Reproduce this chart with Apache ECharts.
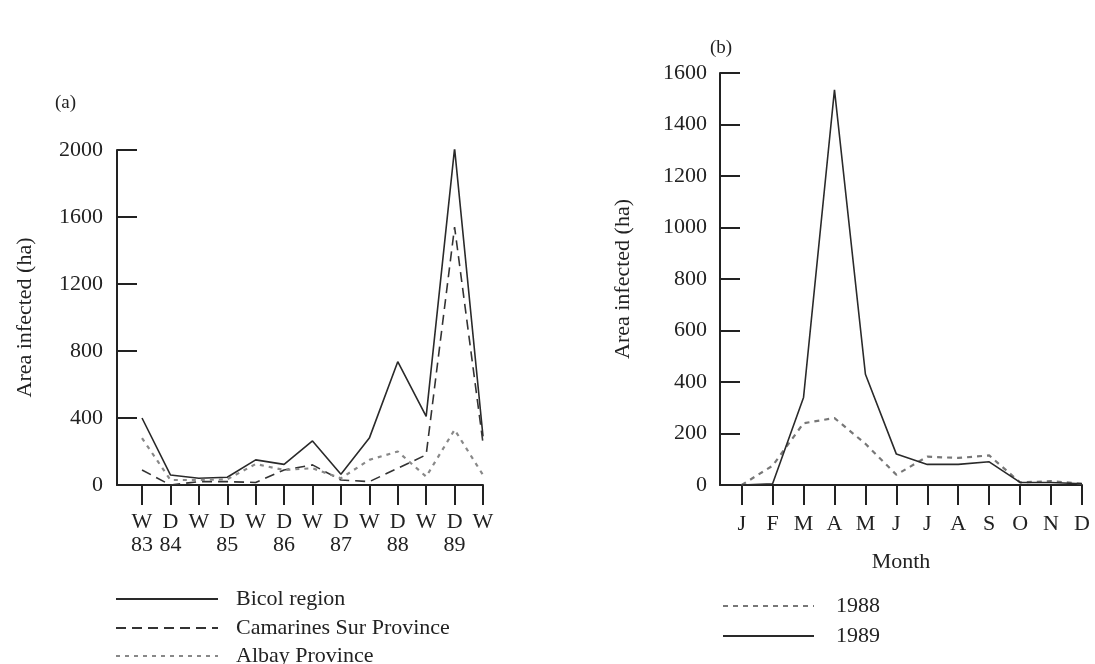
<!DOCTYPE html>
<html>
<head>
<meta charset="utf-8">
<script src="https://cdn.jsdelivr.net/npm/echarts@6/dist/echarts.min.js"></script>
<style>
html,body{margin:0;padding:0;background:#fff;}
#chart{width:1095px;height:664px;}
</style>
</head>
<body>
<div id="chart"></div>
<script>
// ---- Panel (a) data ----
const seasonLetters = ['W','D','W','D','W','D','W','D','W','D','W','D','W'];
const seasonYears   = ['83','84','','85','','86','','87','','88','','89',''];
const bicol     = [400, 60, 40, 46, 150, 123, 263, 64, 280, 736, 410, 2010, 290];
const camarines = [90, 0, 20, 20, 15, 90, 120, 30, 20, 100, 180, 1540, 250];
const albay     = [280, 30, 30, 34, 125, 90, 100, 40, 150, 200, 50, 330, 60];
const yTicksA   = [0, 400, 800, 1200, 1600, 2000];
const legendA   = ['Bicol region', 'Camarines Sur Province', 'Albay Province'];

// ---- Panel (b) data ----
const months  = ['J','F','M','A','M','J','J','A','S','O','N','D'];
const y1988   = [0, 75, 240, 260, 160, 40, 110, 105, 115, 10, 15, 5];
const y1989   = [0, 5, 340, 1535, 430, 120, 80, 80, 90, 10, 10, 5];
const yTicksB = [0, 200, 400, 600, 800, 1000, 1200, 1400, 1600];
const legendB = ['1988', '1989'];

const FONT = 'Liberation Serif';
const TXT = '#222';
const AX = '#222';

function pairs(arr){ return arr.map((v,i)=>[i,v]); }
function idx(n){ return Array.from({length:n},(_,i)=>i); }

const chart = echarts.init(document.getElementById('chart'), null, {renderer:'canvas'});

const hiddenSymbol = {color:'rgba(0,0,0,0)', borderWidth:0, opacity:0};

function legendItem(name, left, top, w, gap){
  return {
    data:[name], orient:'vertical', left:left, top:top, padding:0,
    itemWidth:w, itemHeight:10, itemStyle:hiddenSymbol,
    textStyle:{fontFamily:FONT, fontSize:22, lineHeight:16, color:TXT, padding:[0,0,0,gap]},
    selectedMode:false
  };
}
const legendTopsA = [588, 617, 645];
const legendTopsB = [595, 625];

const option = {
  backgroundColor:'#fff',
  animation:false,
  textStyle:{fontFamily:FONT, color:TXT},
  title:[
    {text:'(a)', left:50, top:89, textStyle:{fontFamily:FONT, fontSize:19, fontWeight:'normal', color:TXT}},
    {text:'(b)', left:705, top:34, textStyle:{fontFamily:FONT, fontSize:19, fontWeight:'normal', color:TXT}}
  ],
  grid:[
    {left:117, top:150, right:612, bottom:179, containLabel:false},
    {left:720, top:73, right:13, bottom:179, containLabel:false}
  ],
  xAxis:[
    {
      gridIndex:0, type:'value', min:-0.88, max:12,
      axisLine:{onZero:false, lineStyle:{color:AX, width:2}},
      axisTick:{show:true, length:20, customValues:idx(seasonLetters.length), lineStyle:{color:AX,width:2}},
      splitLine:{show:false},
      axisLabel:{
        customValues:idx(seasonLetters.length), margin:26,
        fontFamily:FONT, fontSize:22, color:TXT, lineHeight:23,
        formatter:function(v){ const i=Math.round(v); const y=seasonYears[i]; return seasonLetters[i] + '\n' + (y||' '); }
      }
    },
    {
      gridIndex:1, type:'value', min:-0.7, max:11,
      axisLine:{onZero:false, lineStyle:{color:AX, width:2}},
      axisTick:{show:true, length:20, customValues:idx(months.length), lineStyle:{color:AX,width:2}},
      splitLine:{show:false},
      axisLabel:{
        customValues:idx(months.length), margin:28,
        fontFamily:FONT, fontSize:22, color:TXT, lineHeight:23,
        formatter:function(v){ return months[Math.round(v)]; }
      },
      name:'Month', nameLocation:'middle', nameGap:66,
      nameTextStyle:{fontFamily:FONT, fontSize:22, color:TXT}
    }
  ],
  yAxis:[
    {
      gridIndex:0, type:'value', min:yTicksA[0], max:yTicksA[yTicksA.length-1], interval:400,
      axisLine:{show:true, onZero:false, lineStyle:{color:AX,width:2}},
      axisTick:{show:true, inside:true, length:20, lineStyle:{color:AX,width:2}},
      splitLine:{show:false},
      axisLabel:{margin:14, fontFamily:FONT, fontSize:22, color:TXT, formatter:function(v){return String(v);}},
      name:'Area infected (ha)', nameLocation:'middle', nameGap:81,
      nameTextStyle:{fontFamily:FONT, fontSize:22, color:TXT}
    },
    {
      gridIndex:1, type:'value', min:yTicksB[0], max:yTicksB[yTicksB.length-1], interval:200,
      axisLine:{show:true, onZero:false, lineStyle:{color:AX,width:2}},
      axisTick:{show:true, inside:true, length:20, lineStyle:{color:AX,width:2}},
      splitLine:{show:false},
      axisLabel:{margin:13, fontFamily:FONT, fontSize:22, color:TXT, formatter:function(v){return String(v);}},
      name:'Area infected (ha)', nameLocation:'middle', nameGap:86,
      nameTextStyle:{fontFamily:FONT, fontSize:22, color:TXT}
    }
  ],
  legend:[].concat(
    legendA.map((n,i)=>legendItem(n, 115, legendTopsA[i], 102, 13)),
    legendB.map((n,i)=>legendItem(n, 722, legendTopsB[i], 91, 17))
  ),
  series:[
    {name:legendA[0], type:'line', xAxisIndex:0, yAxisIndex:0, data:pairs(bicol),
      symbol:'none', lineStyle:{color:'#2a2a2a', width:1.6, type:'solid'}, itemStyle:{color:'#2a2a2a'}},
    {name:legendA[1], type:'line', xAxisIndex:0, yAxisIndex:0, data:pairs(camarines),
      symbol:'none', lineStyle:{color:'#333', width:1.6, type:[10,6]}, itemStyle:{color:'#333'}},
    {name:legendA[2], type:'line', xAxisIndex:0, yAxisIndex:0, data:pairs(albay),
      symbol:'none', lineStyle:{color:'#888', width:2.2, type:[4,5]}, itemStyle:{color:'#888'}},
    {name:legendB[0], type:'line', xAxisIndex:1, yAxisIndex:1, data:pairs(y1988),
      symbol:'none', lineStyle:{color:'#777', width:2.2, type:[5,5]}, itemStyle:{color:'#777'}},
    {name:legendB[1], type:'line', xAxisIndex:1, yAxisIndex:1, data:pairs(y1989),
      symbol:'none', lineStyle:{color:'#2a2a2a', width:1.6, type:'solid'}, itemStyle:{color:'#2a2a2a'}}
  ]
};
chart.setOption(option);
</script>
</body>
</html>
